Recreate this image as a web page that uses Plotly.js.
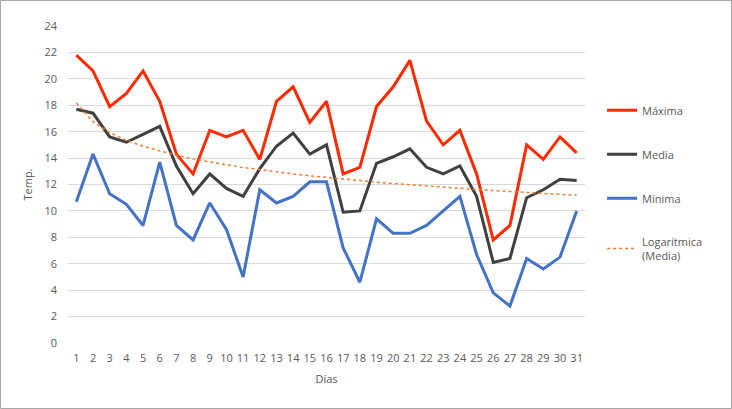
<!DOCTYPE html>
<html>
<head>
<meta charset="utf-8">
<script src="https://cdn.plot.ly/plotly-3.0.1.min.js"></script>
<style>
html,body{margin:0;padding:0;background:#fff;}
#chart{width:732px;height:409px;}
</style>
</head>
<body>
<div id="chart"></div>
<script>
const dias = [1,2,3,4,5,6,7,8,9,10,11,12,13,14,15,16,17,18,19,20,21,22,23,24,25,26,27,28,29,30,31];
const maxima = [21.8,20.6,17.9,18.9,20.6,18.3,14.3,12.8,16.1,15.6,16.1,13.9,18.3,19.4,16.7,18.3,12.8,13.3,17.9,19.4,21.4,16.8,15.0,16.1,12.8,7.8,8.9,15.0,13.9,15.6,14.4];
const media = [17.7,17.4,15.6,15.2,15.8,16.4,13.4,11.3,12.8,11.7,11.1,13.2,14.9,15.9,14.3,15.0,9.9,10.0,13.6,14.1,14.7,13.3,12.8,13.4,11.1,6.1,6.4,11.0,11.6,12.4,12.3];
const minima = [10.7,14.3,11.3,10.5,8.9,13.7,8.9,7.8,10.6,8.6,5.0,11.6,10.6,11.1,12.2,12.2,7.2,4.6,9.4,8.3,8.3,8.9,10.0,11.1,6.7,3.8,2.8,6.4,5.6,6.5,10.0];
const yTicks = [0,2,4,6,8,10,12,14,16,18,20,22,24];

// logarithmic trendline (least squares of media on ln(x))
const lx = dias.map(d => Math.log(d));
const n = dias.length;
const mx = lx.reduce((a,b)=>a+b,0)/n;
const my = media.reduce((a,b)=>a+b,0)/n;
let sxy = 0, sxx = 0;
for (let i=0;i<n;i++){ sxy += (lx[i]-mx)*(media[i]-my); sxx += (lx[i]-mx)*(lx[i]-mx); }
const b = sxy/sxx, a = my - b*mx;
const trend = lx.map(v => a + b*v);

const font = {family:'Open Sans, Liberation Sans, sans-serif', size:11, color:'#595959'};

const traces = [
  {x:dias, y:maxima, name:'Máxima', type:'scatter', mode:'lines', line:{color:'#ff2a00', width:3}, legendgroup:'a'},
  {x:dias, y:media, name:'Media', type:'scatter', mode:'lines', line:{color:'#404040', width:3}, legendgroup:'b'},
  {x:dias, y:minima, name:'Mínima', type:'scatter', mode:'lines', line:{color:'#4472c4', width:3}, legendgroup:'c'},
  {x:dias, y:trend, name:'Logarítmica<br>(Media)', type:'scatter', mode:'lines', line:{color:'#ed7d31', width:1.5, dash:'dot'}, legendgroup:'d'}
];

// plot area: left 68, right 585, top 26, bottom 343 (pixels)
const W = 517, H = 317;
const layout = {
  width:732, height:409,
  margin:{l:68, r:147, t:26, b:66},
  paper_bgcolor:'#fff', plot_bgcolor:'#fff',
  font:font,
  showlegend:true,
  legend:{x:1.033, xanchor:'left', y:0.78, yanchor:'top', tracegroupgap:25, font:font, bgcolor:'rgba(0,0,0,0)'},
  xaxis:{
    range:[0.5,31.5], tickmode:'array', tickvals:dias, ticktext:dias.map(String),
    showgrid:false, zeroline:false, showline:false, ticks:'', ticklabelstandoff:7,
    title:{text:'Días', font:font, standoff:11}, fixedrange:true
  },
  yaxis:{
    range:[0,24], tickmode:'array', tickvals:yTicks, ticktext:yTicks.map(String),
    showgrid:true, gridcolor:'#d9d9d9', gridwidth:1, zeroline:false, showline:false,
    ticks:'', ticklabelstandoff:10,
    title:{text:'Temp.', font:font, standoff:9}, fixedrange:true
  },
  shapes:[{
    type:'rect', xref:'paper', yref:'paper', layer:'above',
    x0:(0.5-68)/W, x1:(731.5-68)/W, y0:(343-408.5)/H, y1:(343-0.5)/H,
    line:{color:'#a6a6a6', width:1}, fillcolor:'rgba(0,0,0,0)'
  }]
};

Plotly.newPlot('chart', traces, layout, {displayModeBar:false, staticPlot:true});
</script>
</body>
</html>
